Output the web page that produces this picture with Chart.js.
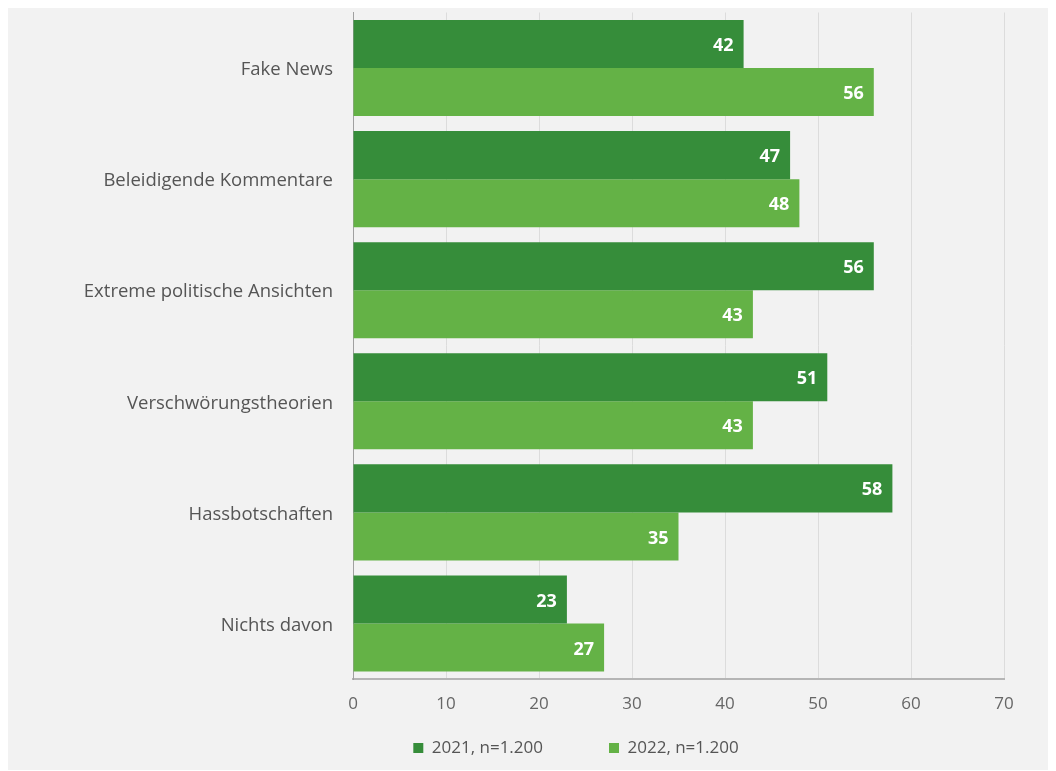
<!DOCTYPE html>
<html>
<head>
<meta charset="utf-8">
<script src="https://cdn.jsdelivr.net/npm/chart.js@4.4.1/dist/chart.umd.min.js"></script>
<style>
  html, body { margin: 0; padding: 0; background: #ffffff; }
  #panel { position: absolute; left: 8px; top: 8px; width: 1040px; height: 762px; background: #f2f2f2; }
  #wrap { position: absolute; left: 0; top: 0; width: 1056px; height: 771px; }
</style>
</head>
<body>
<div id="panel"></div>
<div id="wrap"><canvas id="c" width="1056" height="771"></canvas></div>
<script>
const categories = ["Fake News", "Beleidigende Kommentare", "Extreme politische Ansichten", "Verschwörungstheorien", "Hassbotschaften", "Nichts davon"];
const values2021 = [42, 47, 56, 51, 58, 23];
const values2022 = [56, 48, 43, 43, 35, 27];
const seriesLabels = ["2021, n=1.200", "2022, n=1.200"];
const xTicks = [0, 10, 20, 30, 40, 50, 60, 70];

const FONT = "'Open Sans', 'DejaVu Sans', sans-serif";
const LEGEND_PAD = 66;
const LEGEND_FONT = 17;

const valueLabels = {
  id: 'valueLabels',
  afterDatasetsDraw(chart) {
    const ctx = chart.ctx;
    ctx.save();
    ctx.font = "bold 18px " + FONT;
    ctx.fillStyle = "#ffffff";
    ctx.textAlign = "right";
    ctx.textBaseline = "middle";
    chart.data.datasets.forEach((ds, di) => {
      const meta = chart.getDatasetMeta(di);
      meta.data.forEach((bar, i) => {
        ctx.fillText(String(ds.data[i]), bar.x - 10, bar.y + 2);
      });
    });
    ctx.restore();
  }
};

// Legend: keep a compact layout box, then place it under the axis labels
const legendPlace = {
  id: 'legendPlace',
  beforeLayout(chart) {
    const lg = chart.legend;
    if (lg && !lg._patchedFit) {
      const orig = lg.fit;
      lg.fit = function () { orig.call(this); this.height = 40; };
      lg._patchedFit = true;
    }
  },
  afterLayout(chart) {
    const lg = chart.legend;
    if (lg) {
      lg.left = 148;
      lg.right = 1004;
      lg.width = lg.right - lg.left;
      lg.top = 748 - LEGEND_FONT / 2 - LEGEND_PAD;
      lg.bottom = chart.height;
      lg.height = lg.bottom - lg.top;
    }
  }
};

new Chart(document.getElementById('c'), {
  type: 'bar',
  data: {
    labels: categories,
    datasets: [
      { label: seriesLabels[0], data: values2021, backgroundColor: '#368d3a', borderWidth: 0, categoryPercentage: 0.865, barPercentage: 1.0 },
      { label: seriesLabels[1], data: values2022, backgroundColor: '#64b246', borderWidth: 0, categoryPercentage: 0.865, barPercentage: 1.0 }
    ]
  },
  options: {
    indexAxis: 'y',
    responsive: false,
    animation: false,
    layout: { padding: { top: 12.5, right: 52, left: 0, bottom: 0 } },
    scales: {
      x: {
        min: 0, max: 70,
        afterBuildTicks(scale) { scale.ticks = xTicks.map(v => ({ value: v })); },
        afterFit(scale) { scale.height = 52; scale.paddingLeft = 0; scale.paddingRight = 0; },
        grid: { color: '#dcdcdc', lineWidth: 1, drawTicks: false },
        border: { color: '#b5b5b5', width: 2 },
        ticks: { color: '#666666', font: { family: FONT, size: 17 }, padding: 15 }
      },
      y: {
        afterFit(scale) { scale.width = 353; scale.paddingTop = 0; scale.paddingBottom = 0; },
        grid: { display: false, drawTicks: false },
        border: { color: '#a0a0a0', width: 1 },
        ticks: { color: '#555555', font: { family: FONT, size: 18.5 }, padding: 20, labelOffset: 2 }
      }
    },
    plugins: {
      legend: {
        position: 'bottom',
        labels: { boxWidth: 10, boxHeight: 10, padding: LEGEND_PAD, color: '#555555', font: { family: FONT, size: LEGEND_FONT } }
      },
      tooltip: { enabled: false }
    }
  },
  plugins: [valueLabels, legendPlace]
});
</script>
</body>
</html>
